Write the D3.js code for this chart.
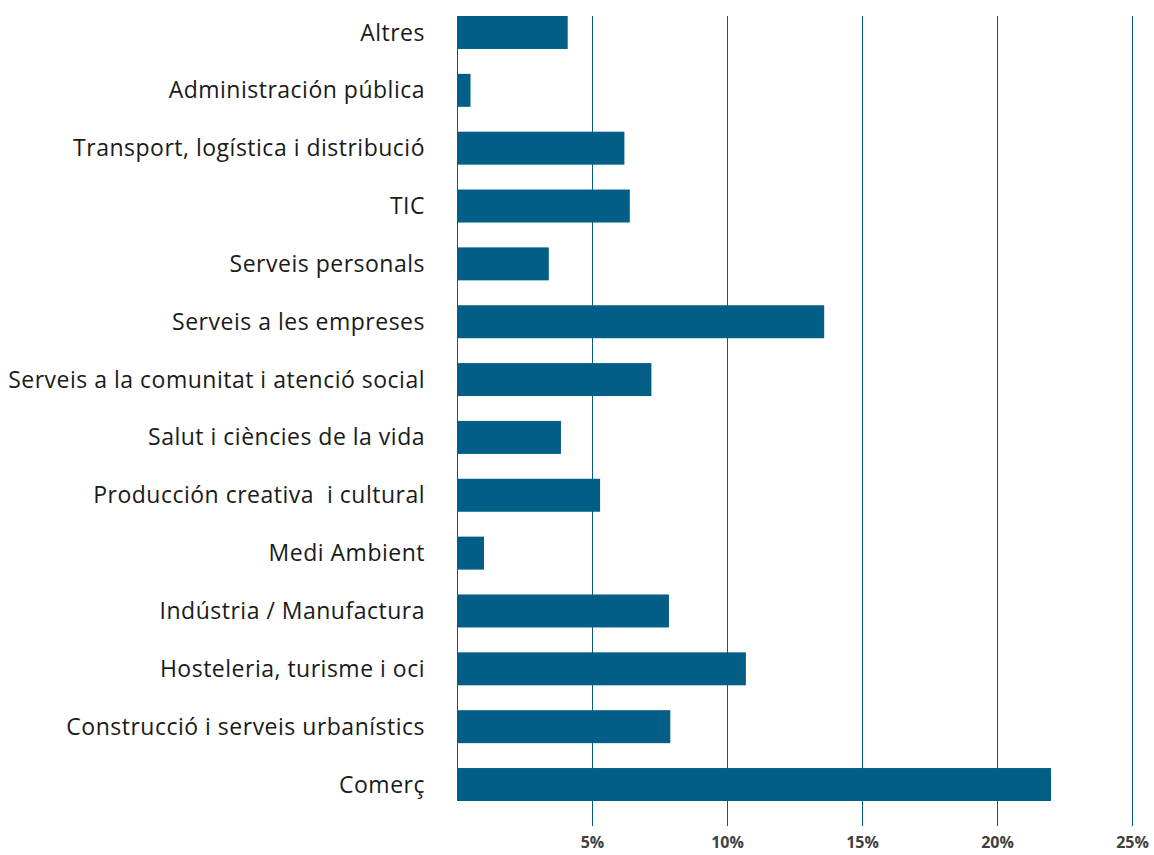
<!DOCTYPE html>
<html>
<head>
<meta charset="utf-8">
<script src="https://cdn.jsdelivr.net/npm/d3@7"></script>
<style>
  html, body { margin: 0; padding: 0; background: #fff; }
  svg { display: block; }
</style>
</head>
<body>
<svg id="chart" width="1154" height="855"></svg>
<script>
// Sector shares (%), listed top to bottom
const categories = [
  "Altres",
  "Administración pública",
  "Transport, logística i distribució",
  "TIC",
  "Serveis personals",
  "Serveis a les empreses",
  "Serveis a la comunitat i atenció social",
  "Salut i ciències de la vida",
  "Producción creativa  i cultural",
  "Medi Ambient",
  "Indústria / Manufactura",
  "Hosteleria, turisme i oci",
  "Construcció i serveis urbanístics",
  "Comerç"
];
const values = [4.1, 0.5, 6.2, 6.4, 3.4, 13.6, 7.2, 3.85, 5.3, 1.0, 7.85, 10.7, 7.9, 22.0];
const tickValues = [5, 10, 15, 20, 25];

const color = "#025e86";
const svg = d3.select("#chart");

const x = d3.scaleLinear().domain([0, 25]).range([457, 1132]);
const y = d3.scaleBand().domain(categories).range([16, 801])
  .paddingInner(0.43).paddingOuter(0);

const gridBottom = 826, gridTop = 16;

// vertical gridlines with percentage labels underneath
const xAxis = d3.axisBottom(x)
  .tickValues(tickValues)
  .tickFormat(d => d + "%")
  .tickSizeInner(-(gridBottom - gridTop))
  .tickSizeOuter(0)
  .tickPadding(11);

const gx = svg.append("g")
  .attr("transform", `translate(0,${gridBottom})`)
  .call(xAxis);
gx.select(".domain").remove();
gx.selectAll(".tick line").attr("stroke", color).attr("stroke-width", 1)
  .attr("shape-rendering", "crispEdges");
gx.selectAll(".tick text")
  .attr("fill", "#404040")
  .style("font-family", "'Open Sans', sans-serif")
  .style("font-weight", "700")
  .style("font-size", "16px");

// baseline at zero
svg.append("line")
  .attr("x1", x(0)).attr("x2", x(0))
  .attr("y1", y.range()[0]).attr("y2", y.range()[1])
  .attr("stroke", color).attr("stroke-width", 1)
  .attr("shape-rendering", "crispEdges");

// bars
svg.append("g").selectAll("rect")
  .data(categories.map((c, i) => ({ c, v: values[i] })))
  .join("rect")
  .attr("x", x(0))
  .attr("y", d => y(d.c))
  .attr("width", d => x(d.v) - x(0))
  .attr("height", y.bandwidth())
  .attr("fill", color);

// category labels
svg.append("g").selectAll("text")
  .data(categories)
  .join("text")
  .attr("x", 425)
  .attr("y", d => y(d) + y.bandwidth() / 2)
  .attr("dy", "0.35em")
  .attr("text-anchor", "end")
  .attr("fill", "#1a1a1a")
  .style("white-space", "pre")
  .style("font-family", "'Open Sans', sans-serif")
  .style("font-size", "23px")
  .style("letter-spacing", "0.5px")
  .text(d => d);
</script>
</body>
</html>
